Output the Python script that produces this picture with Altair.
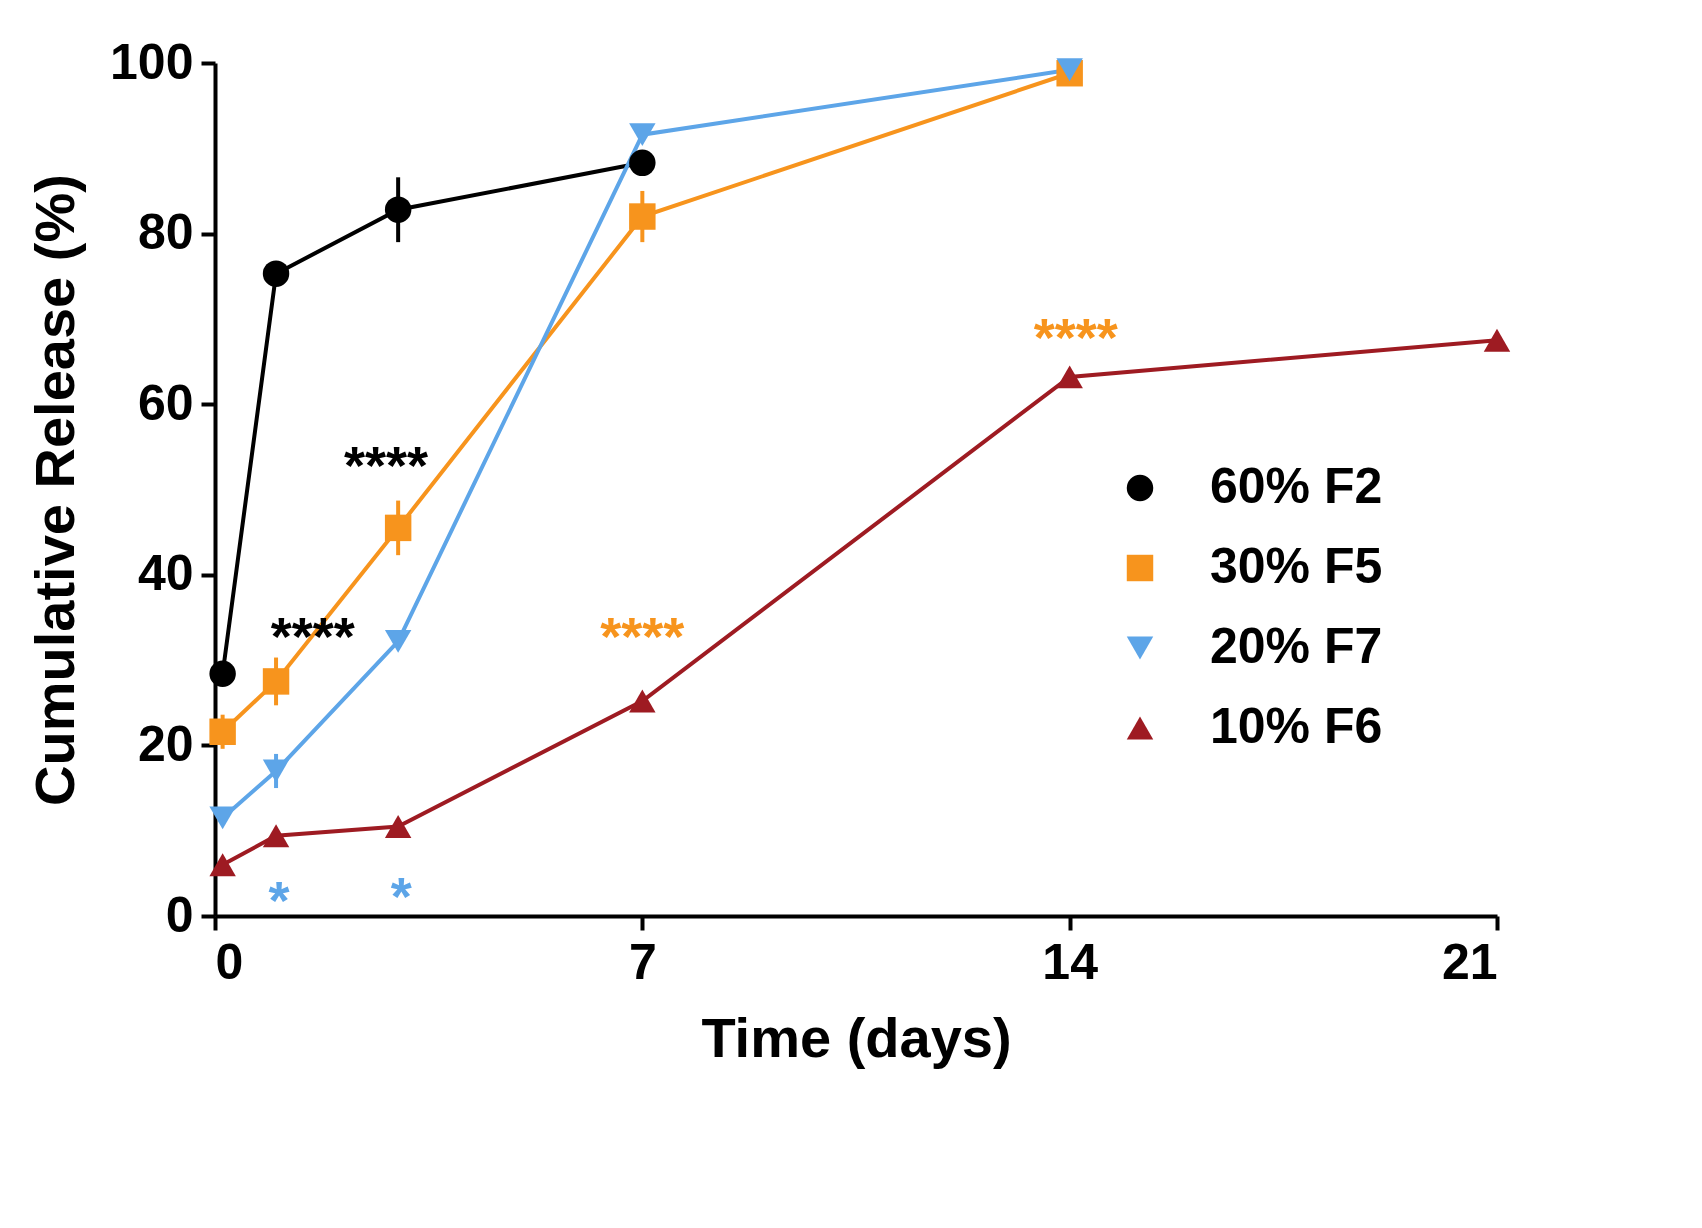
import altair as alt
import pandas as pd

series = ["60% F2", "30% F5", "20% F7", "10% F6"]
colors = ["#000000", "#F7941D", "#5DA5E8", "#9E1B22"]
shapes = ["circle", "square", "triangle-down", "triangle-up"]

days = [0.125, 1, 3, 7, 14, 21]
f2 = [28.4, 75.3, 82.8, 88.3, None, None]
f5 = [21.6, 27.5, 45.5, 82.0, 98.8, None]
f7 = [11.5, 17.0, 32.2, 91.6, 99.2, None]
f6 = [6.0, 9.4, 10.5, 25.2, 63.2, 67.5]
f2_err = [0, 0, 3.8, 0, 0, 0]
f5_err = [2.0, 2.8, 3.2, 3.0, 0, 0]
f7_err = [0, 2.0, 0, 0, 0, 0]
f6_err = [0, 0, 0, 0, 0, 0]

star_text = ["****", "****", "****", "****", "*", "*"]
star_x = [1.6, 2.8, 7.0, 14.1, 1.05, 3.05]
star_y = [32.5, 52.5, 32.5, 67.5, 1.5, 2.0]
star_col = ["#000000", "#000000", "#F7941D", "#F7941D", "#5DA5E8", "#5DA5E8"]

rows = []
for name, vals, errs in [(series[0], f2, f2_err), (series[1], f5, f5_err),
                         (series[2], f7, f7_err), (series[3], f6, f6_err)]:
    for d, v, e in zip(days, vals, errs):
        if v is not None:
            rows.append({"day": d, "value": v, "lo": v - e, "hi": v + e, "series": name})
df = pd.DataFrame(rows)
stars = pd.DataFrame({"t": star_text, "x": star_x, "y": star_y, "c": star_col})

FONT = "Liberation Sans"
xs = alt.Scale(domain=[0, 21], nice=False)
ys = alt.Scale(domain=[0, 100], nice=False)
col = alt.Color("series:N", sort=series,
                scale=alt.Scale(domain=series, range=colors),
                legend=alt.Legend(title=None, orient="none", legendX=900, legendY=400,
                                  labelFontSize=50, labelFontWeight="bold", labelFont=FONT,
                                  labelLimit=400, symbolSize=700, symbolStrokeWidth=0,
                                  rowPadding=30, labelOffset=45, symbolOpacity=1))
shp = alt.Shape("series:N", sort=series, scale=alt.Scale(domain=series, range=shapes))

base = alt.Chart(df)
lines = base.mark_line(strokeWidth=4).encode(
    x=alt.X("day:Q", scale=xs, title="Time (days)",
            axis=alt.Axis(values=[0, 7, 14, 21], format="d", grid=False)),
    y=alt.Y("value:Q", scale=ys, title="Cumulative Release  (%)",
            axis=alt.Axis(values=[0, 20, 40, 60, 80, 100], format="d", grid=False)),
    color=col)
errs = base.mark_rule(strokeWidth=4).encode(
    x="day:Q", y="lo:Q", y2="hi:Q", color=alt.Color("series:N", sort=series, legend=None,
                                                   scale=alt.Scale(domain=series, range=colors)))
pts = base.mark_point(filled=True, size=700, opacity=1).encode(
    x="day:Q", y="value:Q", color=col, shape=shp)
txt = alt.Chart(stars).mark_text(fontSize=54, fontWeight="bold", font=FONT, baseline="middle").encode(
    x=alt.X("x:Q", scale=xs), y=alt.Y("y:Q", scale=ys),
    text="t:N", color=alt.Color("c:N", scale=None))

chart = (alt.layer(lines, errs, pts, txt)
         .properties(width=1282, height=853, padding={"left": 20, "top": 30, "right": 40, "bottom": 10})
         .configure_view(stroke=None)
         .configure_axis(domainColor="black", domainWidth=4, tickColor="black", tickWidth=4,
                         tickSize=14, labelFontSize=50, labelFontWeight="bold", labelFont=FONT,
                         labelColor="black", titleFontSize=56, titleFontWeight="bold",
                         titleFont=FONT, titleColor="black", labelPadding=8, titlePadding=24))
chart.save("out.html", embed_options={"renderer": "svg", "actions": False})
